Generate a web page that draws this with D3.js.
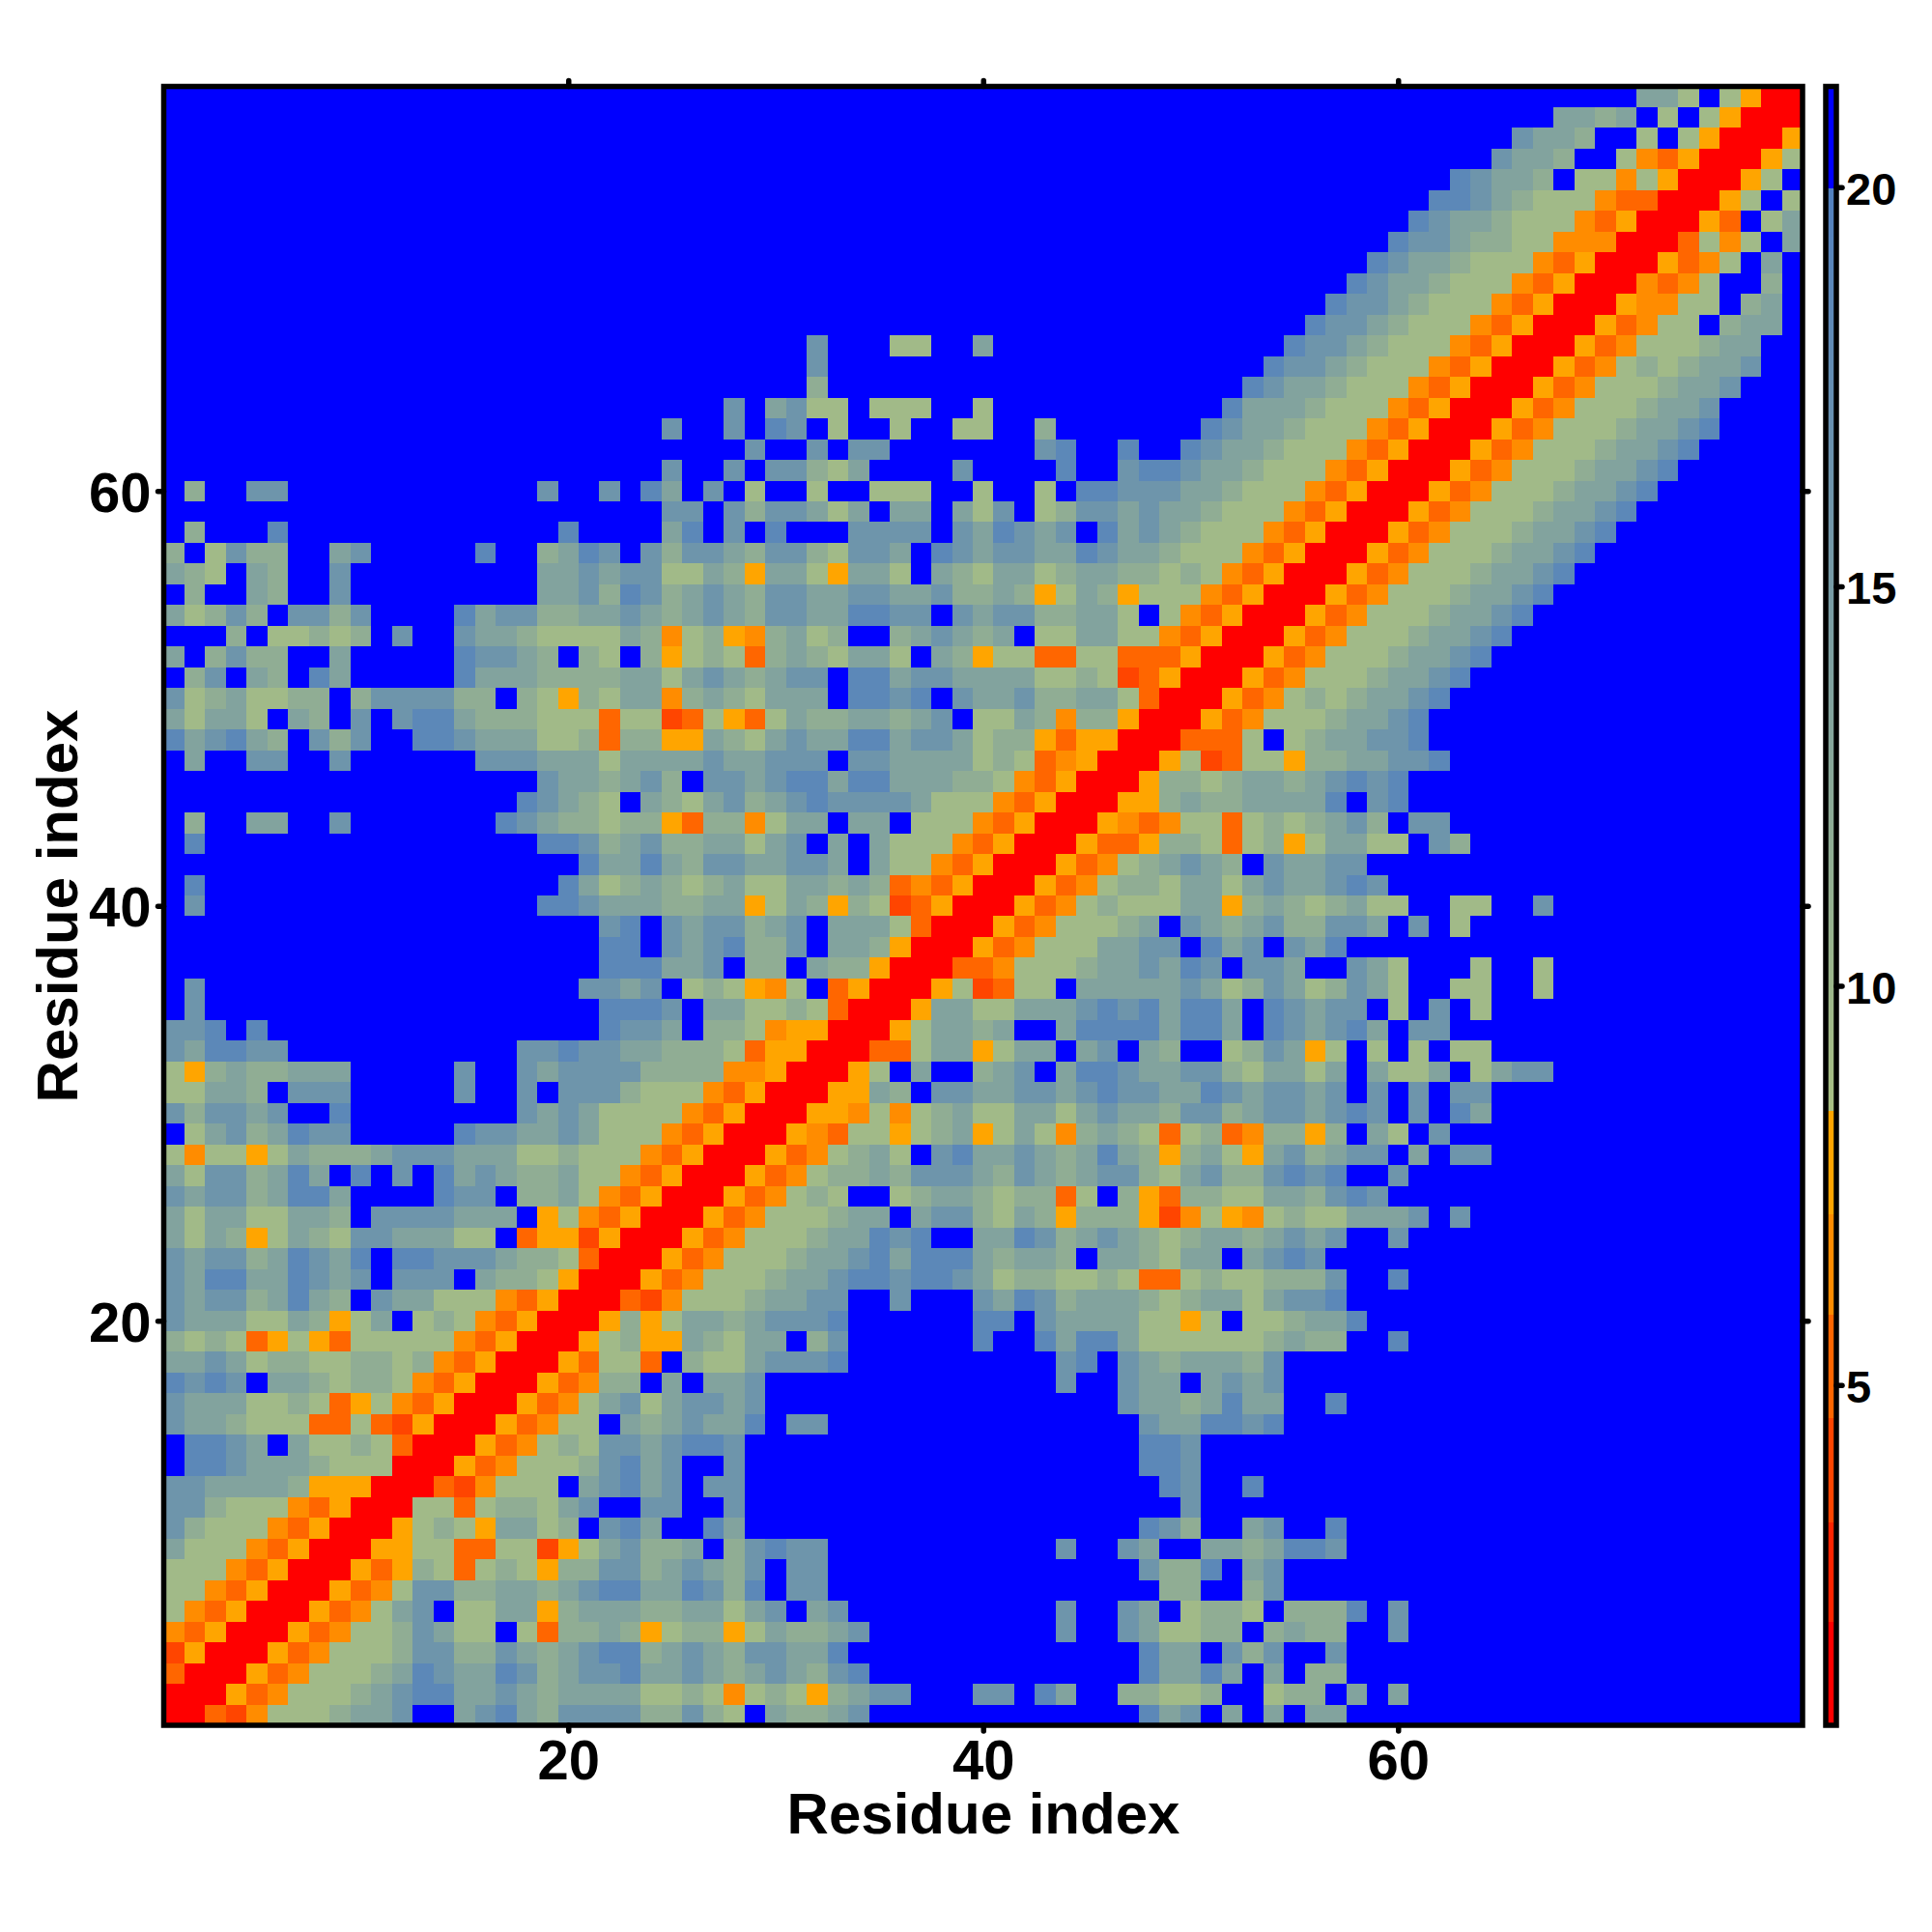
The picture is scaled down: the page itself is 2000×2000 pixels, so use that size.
<!DOCTYPE html>
<html><head><meta charset="utf-8">
<script src="https://cdn.jsdelivr.net/npm/d3@7"></script>
<style>
html,body{margin:0;padding:0;background:#fff}
svg{display:block}
text{font-family:"Liberation Sans",Arial,sans-serif;font-weight:bold;fill:#000}
</style></head><body>
<svg id="chart" width="2000" height="2000"></svg>
<script>
// one string per row, top row (residue 79) first, run-length coded
const matrixRows = [
"71.cca.ayRR",
"67.ccbc.a.ayRRR",
"65.dccb2.a.ayRRRy",
"64.dccb2.anoyRRRya",
"62.edccb.aanayRRRya.",
"61.eedcbaaanooRRRya.a",
"60.edccbaaanoyRRRyo.ac",
"59.eddcbbaannnRRRoana.c",
"58.edccbaaanoyRRRyona.c.",
"57.edccbaaanoyRRRnona2.b.",
"56.eddcbaaanoyRRRynnaa.bc.",
"55.eddcbaaanoyRRRyonaa.bcc.",
"31.d3.aa2.c14.eddcbaaanoyRRRyonaaabcc2.",
"31.d21.eddcbaaanoyRRRyonababccd2.",
"31.b20.edccbaaanoyRRRyonaaabccd3.",
"27.d.cdaa.aaa2.a11.ecccbaaanoyRRRyonaaabccd4.",
"24.d2.d.ed.a2.a2.aa2.b7.edccbaaanoyRRRyonaaabccde4.",
"28.d2.d.dd7.de2.e2.edccbaaanoyRRRyonaaabccde5.",
"24.d2.d.ddbac4.d4.e2.deedccbaaanoyRRRyonaaabccde6.",
".b2.dd12.d2.d.ec.d.a2.a2.aaa2.a2.a.eedddccbaaanoyRRRyonaaabccde7.",
"24.dd.dbddcac.cc.cad.abddcdccbaaanoyRRRyonaaabccde8.",
".b3.e13.e4.ce.d.e3.dddd.dcedcd.ecdcbaaanoyRRRyonaaabccde9.",
"b.adbb2.cd5.e2.bced.dbddcbddbaddc.edcddccedccbaaanoyRRRyonaaabccde10.",
"cba.cb2.d9.ccdcddaacbyccaycca.cbaccabccbbabanoyRRRyonaaabccde11.",
".b2.cb2.d9.ccdbedbcdcbddccddccdbbcbyacbyaaanoyRRRyonaaabccde12.",
"cabdb.ddbd4.ecddbbccdcbcdcbddcceedd.dcddbbcca.anoyRRRyonaaabccde13.",
"3.b.aabab.d2.dccbaaaacbnabynbcab2.bcdcbc.aaccaanoyRRRyonaaabccde14.",
"c.bdbb2.c5.eddcb.ba.byabaobcbacca.cbyaaooaaoooyRRRyonaaabccde15.",
".bd.cb.ec5.ecccbbbbccacdcbcdd.eecddccccaabaroyRRRyonaaabccde16.",
"dabcaabb.bddddbb.baybaccnbcbaccc.eede.dccdbbccaoRRRyonababccde17.",
"cacca.cb.d.deecbbbaaaoaaroayoacbbccbcd.aacbnbbyRRRyonaaabccde18.",
"ecdecb.dbd2.eedcccaabobbyycbacdcceecddcabbyoyyRRRoooa.abccdde18.",
".c2.dd2.d6.dddcccaccccdccddd.ddccccabaonyRRRyaroaaybbccdde17.",
"18.dccbcdb.ddcdeeceecccbbanoyRRRybbabccbcdede19.",
"17.edcba.cbacdbcdeddddcaaanoyRRRyybcbbcccce.de19.",
".b2.cc2.d7.edcbbabbyobbnacc.cc.aaanoyRRRynonaaoababcdb.dd17.",
".e16.eedbcdbbccacd.c.caaanoyRRRyooybbaoabyaccaa.db16.",
"20.eccecbddccddc.caanoyRRRyonabcdcb.dccdd21.",
".e17.ecabcbabcaaccbcbonoyRRRyonabbaccacdccded20.",
".d16.eedcccbbccyacbybaroyRRRyonabaaaccybcbabcaa2.aa2.d12.",
"21.de.dcddbcd.cccaoRRRyonaaabc.dcbcdbbddc.d.a16.",
"21.ee.dcdebbd.ccbyRRRyonaaaccdd.ecd.dce22.",
"21.eeeccd.bb.cbbyRRRoonaaabccdced.ddc2.dca3.a2.a12.",
".d18.ddcd.abayna.oyRRRyaroaa.cccccdcabdcabdca2.aa2.a12.",
".d19.eeed.ccaabaoRRRyccaacccdedeceec.edcdd.a.d.a15.",
"dde.e16.eddc.bbanyyRRRyaccbc2.ceeeeceec.edcdec.dd17.",
"dceedd11.ddeddccbbbaoyyRRRooaccyacc.cd.cb2.abdcya.a.a.aa15.",
"aybcbbccc5.d2.dcddddbbbbnnyRRRya.c2.bcd.ceedccddbaccac.caac.acdd12.",
"aaccb.ddd5.d2.d.dddbaaanoyRRRyycb.ddccddcdeddccedcddcd.d.d.dd15.",
"dbddcd2.e8.dcdcaaaanoyRRRyynanabcaaccacdccbddbcddcded.d.ec15.",
".acdbcedd5.eddccdcaaanoyRRRynoaayabcyacanbcbaoabonbbyb.ca.d17.",
"anaayacbbbcdddcccaabaaanoyRRRyonabca.deccdcbcecbybcaycdbcdd.c.dd15.",
"caddbcec.e.d.ecdcbbcaanoyRRRyonabbcbdddcbdcbcddbacdbbdede2.d19.",
"dcddbceec4.edd.bbcanoyRRRyonaba2.abccbabboa.byobbaaccbded20.",
"caccaaccb.ddddccc.yanoyRRRyonaaabcc.cddbacbybbbyrnaynabaacccd.d16.",
"cacbyacbaddcccaa.oyyryRRRyonaaabccede2.ccedbcdcbabccbcdcd2.d19.",
"dcddbcedce.eedddcbbaoRRRyonaaabccdeceeecbccb.ccbacc.cded23.",
"dceeccedcd.ddd.cbbayRRRyonaaabccdeedeedcabbaabaooabaabbbd2.e19.",
"dcddbcecb.dccaaanoyRRRornaaabccdd2.d3.dcedbcccbabccacdde22.",
"dcccaacbyac.abanoyRRRybyaccbcddde6.ee.dccccaaya.aabcce21.",
"babaoyayoaaaaanoyRRRyabyycbacc.bd6.e2.eceecaaaaaabcbb2.e19.",
"ccdcabbaabbabnoyRRRyoaao.baacddde10.de.dcbcccbd25.",
"eded.ccbabbanoyRRRyonbb.c.ccd14.d2.dcc.cdcd25.",
"dcccaabaoyanoyRRRyonacdacddcd17.dccbcecc2.e22.",
"dccbaaaooaoryRRRyonaa.cbcdcce.dd15.dcceede25.",
".eedc.caabaoRRRyonabaddcdeed19.eed29.",
".eedcccbaaaRRRyonaaabdecd2.d19.eed29.",
"ddccccbyyyRRRornaaa.cdecd.dd20.ed2.e26.",
"ddbaaanoyRRRaaoabbacd2.dd2.d21.d29.",
"dbaaanoyRRRyabayccab.dec2.ec19.edb2.cd2.e22.",
"caaanoyRRRyyaaooaaryacdbbc.bdedd11.d2.dc2.ccbceed22.",
"aaanoyRRRyoybaoabaybbddbcdcbd.dd15.dbbe.cd25.",
"aanoyRRRyonaddbbccbcdeeccedbe.dd16.bb2.bd25.",
"anoyRRRyonacd.aaccybcccbbccacd.cd10.d2.dc.abba.bbbe.d19.",
"noyRRRyonaabdcaa.aobbcbyabbyacbbcd9.d2.dcaabb.bcbb2.d19.",
"ryRRRyonaaabddbbdcbcdeebcdcbddcce14.ecc.dbd2.d22.",
"oRRRyonaaabcedccedbcddeccdcbcdcbde13.eccec.c.bb22.",
"RRRyonaaabcdeeccdcbccccaabanabaybcdd3.dd.ec2.bbaab2.abb.c.c19.",
"RRornaaabccd2.cdecbddddbbdba.cbbcd13.ecd.c.c.cc22."
];
// value read for each symbol of the strings above
const levelSymbols = [".", "R", "r", "o", "n", "y", "a", "b", "c", "d", "e"];
const levelValues  = [21, 1.4, 3.9, 5.2, 6.5, 7.8, 9.4, 11.7, 13.6, 16.2, 18.6];
const bandBreaks = [2.02, 3.3, 4.58, 5.87, 7.15, 8.44];
const bandColors = ["#ff0000", "#ff2400", "#ff4500", "#ff6600", "#ff8c00", "#ffa500"];
const axisTicks = [20, 40, 60];
const barTicks = [5, 10, 15, 20];
const axisTitle = "Residue index";

const valueOf = new Map(levelSymbols.map((s, i) => [s, levelValues[i]]));
function decode(row) {
  const out = [];
  for (const m of row.matchAll(/(\d*)(\D)/g)) {
    const n = m[1] ? +m[1] : 1;
    for (let i = 0; i < n; i++) out.push(valueOf.get(m[2]));
  }
  while (out.length < 79) out.push(21);
  return out.slice(0, 79);
}
const matrix = matrixRows.map(decode);

const band = d3.scaleThreshold().domain(bandBreaks).range(bandColors);
const ramp = d3.scaleLinear().domain([8.44, 20]).range(["#a8bf83", "#5280bf"]).interpolate(d3.interpolateRgb);
const color = v => v >= 20 ? "#0000ff" : v < 8.44 ? band(v) : ramp(v);

const svg = d3.select("#chart");
const x = d3.scaleLinear().domain([0.5, 79.5]).range([169.5, 1866]);
const y = d3.scaleLinear().domain([0.5, 79.5]).range([1786, 89.5]);

const cells = matrix.flatMap((row, i) => row.map((v, j) => ({res1: j + 1, res2: 79 - i, v})));
svg.append("g").attr("shape-rendering", "crispEdges").selectAll("rect").data(cells).join("rect")
  .attr("x", d => x(d.res1 - 0.5))
  .attr("y", d => y(d.res2 + 0.5))
  .attr("width", d => x(d.res1 + 0.5) - x(d.res1 - 0.5))
  .attr("height", d => y(d.res2 - 0.5) - y(d.res2 + 0.5))
  .attr("fill", d => color(d.v));

function style(g, size) {
  g.select(".domain").remove();
  g.selectAll(".tick line").attr("stroke", "#000").attr("stroke-width", 5.5).attr("stroke-linecap", "round");
  g.selectAll(".tick text").attr("font-size", size).attr("font-weight", "bold").attr("font-family", '"Liberation Sans",Arial,sans-serif').attr("fill", "#000");
}
const blank = () => "";
svg.append("g").attr("transform", "translate(0,1786)")
  .call(d3.axisBottom(x).tickValues(axisTicks).tickSize(6).tickPadding(8.5)).call(style, 58);
svg.append("g").attr("transform", "translate(0,89.5)")
  .call(d3.axisTop(x).tickValues(axisTicks).tickSize(6).tickFormat(blank)).call(style, 58);
svg.append("g").attr("transform", "translate(169.5,0)")
  .call(d3.axisLeft(y).tickValues(axisTicks).tickSize(6).tickPadding(7)).call(style, 58)
  .selectAll(".tick text").attr("dy", "0.36em");
svg.append("g").attr("transform", "translate(1866,0)")
  .call(d3.axisRight(y).tickValues(axisTicks).tickSize(6).tickFormat(blank)).call(style, 58);

svg.append("rect").attr("x", 169.5).attr("y", 89.5).attr("width", 1696.5).attr("height", 1696.5)
  .attr("fill", "none").attr("stroke", "#000").attr("stroke-width", 5.5);

svg.append("text").attr("x", 1018).attr("y", 1898).attr("text-anchor", "middle").attr("font-size", 60).text(axisTitle);
svg.append("text").attr("transform", "translate(80,938) rotate(-90)").attr("text-anchor", "middle").attr("font-size", 60).text(axisTitle);

// colour bar
const barY = d3.scaleLinear().domain([0.74, 21.26]).range([1786, 89.5]);
const barSteps = d3.range(0.74, 21.26, 0.05);
svg.append("g").attr("shape-rendering", "crispEdges").selectAll("rect").data(barSteps).join("rect")
  .attr("x", 1890).attr("width", 11)
  .attr("y", d => barY(d + 0.05) - 0.5)
  .attr("height", d => barY(d) - barY(d + 0.05) + 1)
  .attr("fill", d => color(d + 0.01));
svg.append("g").attr("transform", "translate(1901,0)")
  .call(d3.axisRight(barY).tickValues(barTicks).tickSize(6).tickPadding(4)).call(style, 47)
  .selectAll(".tick text").attr("dy", "0.38em");
svg.append("rect").attr("x", 1890).attr("y", 89.5).attr("width", 11).attr("height", 1696.5)
  .attr("fill", "none").attr("stroke", "#000").attr("stroke-width", 5.5);
</script>
</body></html>
